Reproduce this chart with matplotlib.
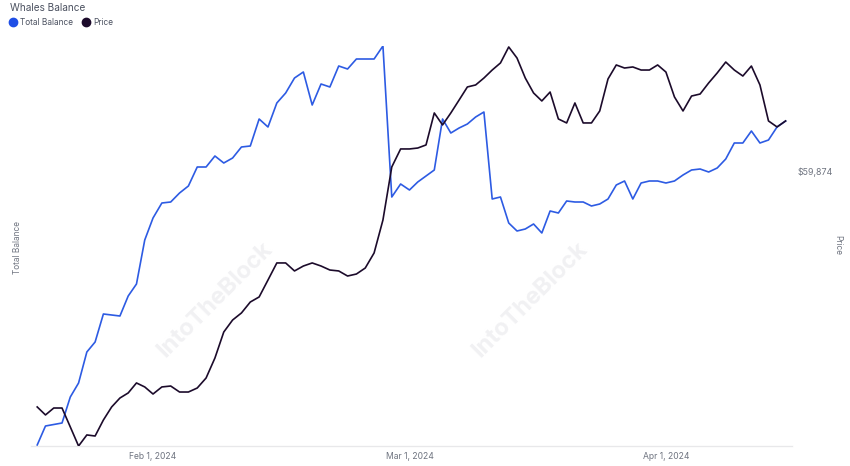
import numpy as np
import pandas as pd
import matplotlib
matplotlib.use("Agg")
import matplotlib.pyplot as plt
from matplotlib.lines import Line2D

plt.rcParams['font.family'] = ['Inter', 'DejaVu Sans']

# daily points, Jan 18 2024 -> Apr 15 2024
dates = pd.date_range("2024-01-18", "2024-04-15", freq="D")

# whales total balance (relative units, axis is unlabelled)
balance = [1, 20, 21.5, 23, 49, 63, 94, 104, 132, 131,
           130, 150, 162, 206, 228, 243, 244, 253, 260, 279,
           279, 290, 283, 288, 299, 300, 327, 319, 343, 353,
           368, 374, 341, 362, 359, 380, 377, 387, 387, 387,
           400, 249, 262, 256, 264, 270, 276, 327, 313, 318,
           322, 329, 334, 247, 249, 223, 215, 217, 222, 213,
           235, 233, 245, 244, 244, 240, 242, 247, 261, 265,
           247, 263, 265, 265, 263, 265, 271, 276, 277, 274,
           278, 287, 303, 303, 315, 303, 306, 319, 325]

# price in USD
price = [42230, 41630, 42150, 42150, 40730, 39300, 40130, 40050, 41250, 42230,
         42900, 43280, 44030, 43730, 43200, 43730, 43800, 43350, 43350, 43650,
         44400, 45900, 47850, 48750, 49280, 50100, 50480, 51750, 53030, 53030,
         52430, 52800, 53030, 52800, 52500, 52430, 52050, 52200, 52650, 53780,
         56250, 60230, 61580, 61580, 61650, 61880, 64280, 63380, 64280, 65250,
         66230, 66380, 66900, 67500, 68030, 69230, 68400, 66900, 65780, 65180,
         65850, 63830, 63530, 65030, 63530, 63530, 64430, 66830, 67880, 67650,
         67730, 67500, 67500, 67880, 67350, 65480, 64430, 65550, 65700, 66530,
         67280, 68100, 67500, 67050, 67800, 66380, 63680, 63230, 63680]

tick_dates = pd.to_datetime(["2024-02-01", "2024-03-01", "2024-04-01"])
price_tick = [59874]

blue = '#2d5be3'
dark = '#1c0b2b'
grey = '#6f7480'


# the source chart gives every month the same width on the x axis
def month_fwd(x):
    x = np.asarray(x, dtype=float)
    out = np.full(x.shape, np.nan)
    ok = np.isfinite(x)
    d = x[ok]
    m = np.floor(d).astype('int64').astype('datetime64[D]').astype('datetime64[M]')
    start = m.astype('datetime64[D]').astype('int64').astype(float)
    end = (m + 1).astype('datetime64[D]').astype('int64').astype(float)
    out[ok] = m.astype('int64').astype(float) + (d - start) / (end - start)
    return out


def month_inv(p):
    p = np.asarray(p, dtype=float)
    out = np.full(p.shape, np.nan)
    ok = np.isfinite(p)
    q = p[ok]
    m = np.floor(q).astype('int64')
    start = m.astype('datetime64[M]').astype('datetime64[D]').astype('int64').astype(float)
    end = (m + 1).astype('datetime64[M]').astype('datetime64[D]').astype('int64').astype(float)
    out[ok] = start + (q - m) * (end - start)
    return out


fig = plt.figure(figsize=(8.5, 4.66), dpi=100)
ax = fig.add_axes([31 / 850, 20 / 466, 761 / 850, 400 / 466])
ax2 = ax.twinx()

# faint watermark
for wx, wy in [(215, 300), (530, 300)]:
    fig.text(wx / 850, 1 - wy / 466, "IntoTheBlock", rotation=45, fontsize=17,
             fontweight='bold', color='#f1f1f3', ha='center', va='center', zorder=0)

ax.plot(dates, balance, color=blue, lw=1.2, zorder=2)
ax2.plot(dates, price, color=dark, lw=1.2, zorder=3)

ax.set_xscale('function', functions=(month_fwd, month_inv))
pad = pd.Timedelta(hours=18)
ax.set_xlim(dates[0] - pad, dates[-1] + pad)
ax.set_ylim(0, 400)
ax2.set_ylim(39301, 69302)

ax.set_xticks(tick_dates)
ax.set_xticklabels([f"{d:%b} {d.day}, {d.year}" for d in tick_dates])
ax.xaxis.set_minor_locator(matplotlib.ticker.NullLocator())
ax.tick_params(axis='x', length=0, pad=4, labelsize=6.2, labelcolor=grey)
ax.set_yticks([])
ax2.set_yticks(price_tick)
ax2.set_yticklabels([f"${v:,}" for v in price_tick])
ax2.tick_params(axis='y', length=0, pad=4, labelsize=6.4, labelcolor=grey)

for a in (ax, ax2):
    for s in ('top', 'left', 'right'):
        a.spines[s].set_visible(False)
    a.spines['bottom'].set_color('#e8e8ea')
    a.patch.set_visible(False)

fig.text(10 / 850, 1 - 8 / 466, "Whales Balance", fontsize=7.2, color='#4b5160',
         ha='left', va='center')
fig.text(17 / 850, 1 - 247 / 466, "Total Balance", fontsize=6, color=grey,
         rotation=90, ha='center', va='center')
fig.text(838 / 850, 1 - 245 / 466, "Price", fontsize=6, color=grey,
         rotation=270, ha='center', va='center')

handles = [Line2D([], [], marker='o', ls='none', ms=6, color='#1f4fe6'),
           Line2D([], [], marker='o', ls='none', ms=6, color=dark)]
fig.legend(handles, ["Total Balance", "Price"], loc='upper left',
           bbox_to_anchor=(9.5 / 850, 1 - 18 / 466), ncol=2, frameon=False,
           fontsize=6, labelcolor='#4b5160', handletextpad=0.5,
           columnspacing=1.1, borderaxespad=0, borderpad=0, handlelength=0.8)

fig.savefig("out.png", dpi=100)
